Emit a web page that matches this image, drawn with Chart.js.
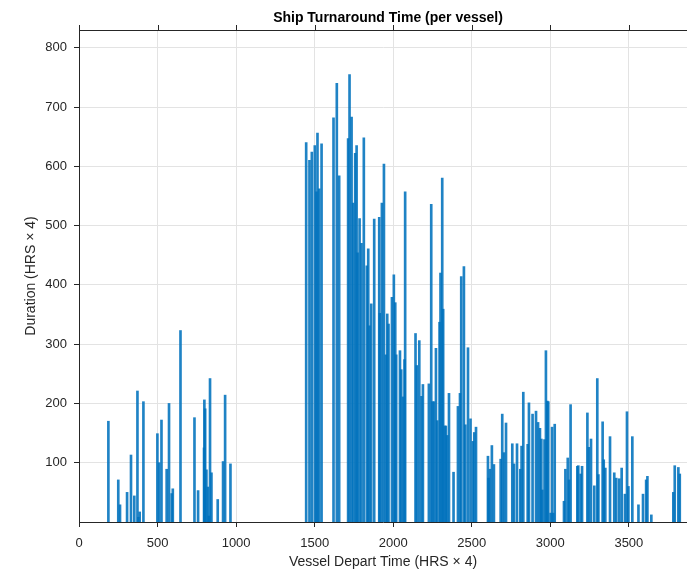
<!DOCTYPE html>
<html>
<head>
<meta charset="utf-8">
<script src="https://cdn.jsdelivr.net/npm/chart.js@4.4.1/dist/chart.umd.min.js"></script>
<style>
  html, body { margin: 0; padding: 0; background: #fff; }
  #wrap { width: 687px; height: 573px; }
</style>
</head>
<body>
<div id="wrap"><canvas id="turnaround"></canvas></div>
<script>
// vessel depart time (HRS x 4) and turnaround duration (HRS x 4)
const departTime = [
  187, 250, 261, 306, 331, 352, 372, 378, 386, 410,
  499, 510, 525, 558, 573, 590, 597, 646, 735, 758,
  796, 798, 803, 811, 820, 826, 834, 843, 883, 917, 930, 964,
  1446, 1467, 1482, 1501, 1512, 1518, 1529, 1544,
  1620, 1641, 1656, 1713, 1722, 1735, 1745, 1758, 1767, 1773,
  1786, 1798, 1813, 1832, 1841, 1849, 1860, 1879, 1911, 1915,
  1928, 1941, 1953, 1962, 1970, 1992, 2004, 2013, 2019, 2043,
  2051, 2062, 2072, 2076,
  2142, 2150, 2166, 2180, 2189, 2227, 2242, 2250, 2259, 2272,
  2280, 2295, 2301, 2312, 2318, 2327, 2335, 2344, 2355, 2384,
  2412, 2425, 2433, 2450, 2459, 2476, 2492, 2507, 2516, 2527,
  2603, 2607, 2616, 2628, 2641, 2684, 2694, 2705, 2718, 2758,
  2769, 2788, 2809, 2817, 2828, 2856, 2864, 2887, 2909, 2922,
  2934, 2943, 2949, 2963, 2972, 2981, 2987, 3002, 3011, 3019,
  3028, 3087, 3096, 3111, 3119, 3129, 3172, 3178, 3193, 3202,
  3236, 3244, 3259, 3280, 3299, 3306, 3333, 3340, 3350, 3380,
  3407, 3420, 3439, 3454, 3475, 3488, 3497, 3522, 3561, 3590,
  3610, 3618, 3643, 3783, 3792, 3815, 3824
];
const duration = [
  170, 71, 29, 50, 113, 44, 221, 8, 17, 203,
  149, 100, 172, 89, 200, 48, 56, 323, 176, 53,
  125, 206, 191, 88, 59, 10, 242, 83, 38, 102, 214, 98,
  640, 610, 624, 635, 557, 656, 562, 638,
  682, 740, 584, 647, 755, 683, 538, 622, 635, 454,
  512, 470, 648, 432, 461, 331, 368, 511, 514, 352,
  538, 604, 282, 351, 334, 379, 417, 370, 282, 289,
  257, 211, 274, 557,
  318, 264, 306, 212, 232, 233, 536, 203, 203, 293,
  171, 337, 420, 580, 359, 162, 162, 146, 217, 84,
  195, 217, 414, 431, 164, 294, 174, 136, 151, 160,
  111, 74, 89, 129, 97, 106, 182, 117, 167, 132,
  98, 132, 89, 128, 219, 131, 201, 182, 187, 168,
  158, 140, 54, 139, 289, 204, 203, 15, 160, 15,
  165, 35, 89, 108, 71, 198, 94, 95, 81, 94,
  184, 126, 140, 61, 242, 80, 169, 105, 91, 144,
  83, 74, 73, 91, 47, 186, 60, 144, 29, 47,
  71, 77, 12, 50, 95, 92, 81
];
const xTicks = [0, 500, 1000, 1500, 2000, 2500, 3000, 3500];
const yTicks = [100, 200, 300, 400, 500, 600, 700, 800];

const axisColor = '#262626';
const gridColor = '#e3e3e3';
Chart.defaults.font.family = '"Liberation Sans", Arial, Helvetica, sans-serif';
Chart.defaults.color = axisColor;

// title plus the top box line with outward ticks (matlab style axes)
const frame = {
    id: 'frame',
    afterDraw(chart) {
        const ctx = chart.ctx;
        const area = chart.chartArea;
        const xs = chart.scales.x;
        ctx.save();
        ctx.strokeStyle = axisColor;
        ctx.lineWidth = 1;
        ctx.beginPath();
        ctx.moveTo(area.left, area.top + 0.5);
        ctx.lineTo(area.right, area.top + 0.5);
        xTicks.forEach(function (v) {
            const px = Math.round(xs.getPixelForValue(v)) + 0.5;
            ctx.moveTo(px, area.top);
            ctx.lineTo(px, area.top - 5);
        });
        ctx.stroke();
        ctx.fillStyle = '#000';
        ctx.font = 'bold 14px "Liberation Sans", Arial, sans-serif';
        ctx.textAlign = 'center';
        ctx.textBaseline = 'middle';
        ctx.fillText('Ship Turnaround Time (per vessel)', 388, 18);
        ctx.restore();
    }
};

const points = departTime.map(function (x, i) {
    return { x: x, y: duration[i] };
});

new Chart(document.getElementById('turnaround'), {
    type: 'bar',
    data: {
        datasets: [{
            data: points,
            backgroundColor: 'rgba(0, 114, 189, 0.88)',
            borderWidth: 0,
            barThickness: 2
        }]
    },
    options: {
        responsive: true,
        maintainAspectRatio: false,
        animation: false,
        layout: { padding: { top: 30, left: 0, right: 0, bottom: 0 } },
        plugins: {
            legend: { display: false },
            title: { display: false },
            tooltip: { enabled: false }
        },
        scales: {
            x: {
                type: 'linear',
                min: 0,
                max: 3870,
                offset: false,
                afterBuildTicks: function (scale) {
                    scale.ticks = xTicks.map(function (v) { return { value: v }; });
                },
                afterFit: function (scale) { scale.height = 51; },
                ticks: {
                    font: { size: 13 },
                    color: axisColor,
                    maxRotation: 0,
                    padding: 9,
                    callback: function (v) { return String(v); }
                },
                grid: {
                    offset: false,
                    color: gridColor,
                    tickColor: axisColor,
                    tickLength: 5
                },
                border: { color: axisColor, width: 1 },
                title: {
                    display: true,
                    text: 'Vessel Depart Time (HRS × 4)',
                    font: { size: 14 },
                    color: axisColor,
                    padding: { top: 0, bottom: 2 }
                }
            },
            y: {
                min: 0,
                max: 830,
                afterBuildTicks: function (scale) {
                    scale.ticks = yTicks.map(function (v) { return { value: v }; });
                },
                afterFit: function (scale) { scale.width = 79; },
                ticks: {
                    font: { size: 13 },
                    color: axisColor,
                    padding: 7,
                    callback: function (v) { return String(v); }
                },
                grid: {
                    color: gridColor,
                    tickColor: axisColor,
                    tickLength: 5
                },
                border: { color: axisColor, width: 1 },
                title: {
                    display: true,
                    text: 'Duration (HRS × 4)',
                    font: { size: 14 },
                    color: axisColor,
                    padding: { top: 23, bottom: 0 }
                }
            }
        }
    },
    plugins: [frame]
});
</script>
</body>
</html>
